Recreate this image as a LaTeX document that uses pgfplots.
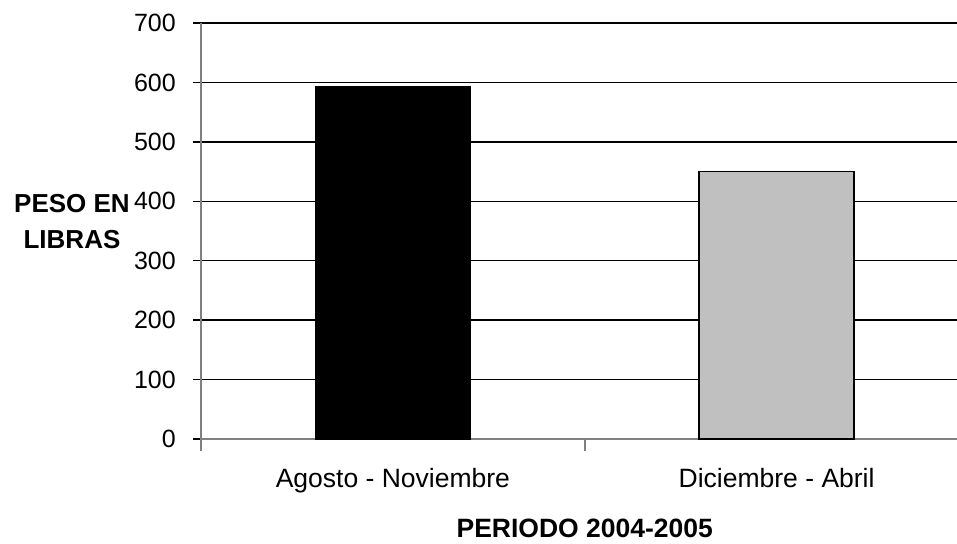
\documentclass[border=0pt]{standalone}
\usepackage{pgfplots}
\pgfplotsset{compat=1.18}
\usepackage{fontspec}
\setmainfont{Liberation Sans}
\definecolor{bargray}{HTML}{C0C0C0}
\definecolor{axgray}{HTML}{808080}
\begin{document}
\begin{tikzpicture}
\useasboundingbox (-201pt,-104pt) rectangle (756pt,439pt);
\begin{axis}[
  scale only axis,
  width=756pt, height=416pt,
  xmin=-0.5, xmax=1.47,
  ymin=0, ymax=700,
  ytick={0,100,...,700},
  xtick={0,1},
  xticklabels={Agosto - Noviembre, Diciembre - Abril},
  x tick label style={font=\fontsize{26.5}{30}\selectfont, anchor=base, yshift=-40pt, inner sep=0pt},
  y tick label style={font=\fontsize{25}{30}\selectfont, anchor=east, inner sep=0pt, xshift=-17pt},
  /pgf/number format/assume math mode=true,
  axis x line*=bottom, axis y line*=left,
  axis line style={axgray, line width=2pt},
  ymajorgrids,
  grid style={black, line width=1.3pt},
  tick align=outside,
  major tick length=8pt,
  ytick style={black, line width=1.3pt},
  xtick style={draw=none},
  extra x ticks={-0.5,0.5},
  extra x tick labels={},
  extra x tick style={major tick length=12pt, xtick style={draw=axgray, line width=1.5pt}, grid=none},
  ybar, bar width=155pt,
  xlabel={PERIODO 2004-2005},
  xlabel style={font=\fontsize{26.5}{30}\selectfont\bfseries, at={(axis cs:0.5,0)}, anchor=center, yshift=-89pt},
  ylabel={PESO EN\\LIBRAS},
  ylabel style={rotate=-90, align=center, font=\fontsize{26}{36}\selectfont\bfseries, at={(axis description cs:0,0.522)}, anchor=center, xshift=-129pt},
]
\addplot[bar shift=0pt, fill=black, draw=black, line width=1.5pt] coordinates {(0,593)};
\addplot[bar shift=0pt, fill=bargray, draw=black, line width=1.5pt] coordinates {(1,450)};
\end{axis}
\end{tikzpicture}
\end{document}
